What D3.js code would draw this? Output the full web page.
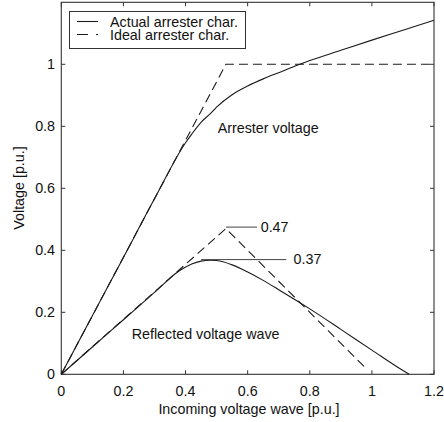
<!DOCTYPE html>
<html>
<head>
<meta charset="utf-8">
<script src="https://cdn.jsdelivr.net/npm/d3@7"></script>
<style>
html,body{margin:0;padding:0;background:#fff;}
svg{display:block;}
text{font-family:"Liberation Sans",Arial,Helvetica,sans-serif;fill:#111;}
</style>
</head>
<body>
<svg id="chart" width="444" height="422"></svg>
<script>
// ---- data ----
const xTicks = [0, 0.2, 0.4, 0.6, 0.8, 1, 1.2];
const yTicks = [0, 0.2, 0.4, 0.6, 0.8, 1];
const xTickLabels = ["0", "0.2", "0.4", "0.6", "0.8", "1", "1.2"];
const yTickLabels = ["0", "0.2", "0.4", "0.6", "0.8", "1"];

// Actual arrester characteristic (solid)
const actualX = [0, 0.1, 0.2, 0.3, 0.4, 0.42, 0.45, 0.48, 0.5, 0.55, 0.6, 0.65, 0.7, 0.768, 0.8, 0.9, 1.0, 1.1, 1.2];
const actualV = [0, 0.189, 0.377, 0.566, 0.747, 0.775, 0.813, 0.841, 0.862, 0.902, 0.930, 0.953, 0.973, 1.000, 1.012, 1.045, 1.078, 1.110, 1.142];

// Reflected wave for actual arrester (solid)
const reflActualX = [0, 0.1, 0.2, 0.3, 0.38, 0.42, 0.45, 0.48, 0.5, 0.55, 0.6, 0.65, 0.7, 0.768, 0.8, 0.9, 1.0, 1.1, 1.12];
const reflActualV = [0, 0.088, 0.176, 0.264, 0.334, 0.356, 0.365, 0.368, 0.367, 0.353, 0.330, 0.303, 0.273, 0.231, 0.211, 0.145, 0.078, 0.012, 0];

// Ideal arrester characteristic (dashed)
const idealX = [0, 0.53, 1.2];
const idealV = [0, 1, 1];

// Reflected wave for ideal arrester (dashed)
const reflIdealX = [0, 0.53, 0.98];
const reflIdealV = [0, 0.47, 0.02];

const legendLabels = ["Actual arrester char.", "Ideal arrester char."];
const peakLabels = ["0.47", "0.37"];
const peakValues = [0.47, 0.37];

// ---- layout ----
const svg = d3.select("#chart");
const L = 61.3, R = 434, T = 2.3, B = 374.3;
const x = d3.scaleLinear().domain([0, 1.2]).range([L, R]);
const y = d3.scaleLinear().domain([0, 1.2]).range([B, T]);
const FS = "14.3px";
const axisColor = "#333";
const lineColor = "#1a1a1a";

// frame
svg.append("rect").attr("x", L).attr("y", T).attr("width", R - L).attr("height", B - T)
  .attr("fill", "none").attr("stroke", axisColor).attr("stroke-width", 1.1);

// ticks (inward on all four sides)
const tk = 4;
const g = svg.append("g").attr("stroke", axisColor).attr("stroke-width", 1);
xTicks.forEach(v => {
  g.append("line").attr("x1", x(v)).attr("x2", x(v)).attr("y1", B).attr("y2", B - tk);
  g.append("line").attr("x1", x(v)).attr("x2", x(v)).attr("y1", T).attr("y2", T + tk);
});
yTicks.forEach(v => {
  g.append("line").attr("x1", L).attr("x2", L + tk).attr("y1", y(v)).attr("y2", y(v));
  g.append("line").attr("x1", R).attr("x2", R - tk).attr("y1", y(v)).attr("y2", y(v));
});

// tick labels
xTicks.forEach((v, i) => {
  svg.append("text").attr("x", x(v)).attr("y", 396).attr("text-anchor", "middle")
    .style("font-size", FS).text(xTickLabels[i]);
});
yTicks.forEach((v, i) => {
  svg.append("text").attr("x", 55).attr("y", y(v) + 5).attr("text-anchor", "end")
    .style("font-size", FS).text(yTickLabels[i]);
});

// axis titles
svg.append("text").attr("x", 249).attr("y", 414).attr("text-anchor", "middle")
  .style("font-size", FS).text("Incoming voltage wave [p.u.]");
svg.append("text").attr("transform", "translate(24," + 188 + ") rotate(-90)")
  .attr("text-anchor", "middle").style("font-size", FS).text("Voltage [p.u.]");

// curves
const mk = (xs, vs) => xs.map((d, i) => [d, vs[i]]);
const smooth = d3.line().x(d => x(d[0])).y(d => y(d[1])).curve(d3.curveMonotoneX);
const straight = d3.line().x(d => x(d[0])).y(d => y(d[1]));

const plot = svg.append("g");
plot.append("path").attr("d", straight(mk(idealX, idealV))).attr("fill", "none")
  .attr("stroke", lineColor).attr("stroke-width", 1.1).attr("stroke-dasharray", "9,5");
plot.append("path").attr("d", straight(mk(reflIdealX, reflIdealV))).attr("fill", "none")
  .attr("stroke", lineColor).attr("stroke-width", 1.1).attr("stroke-dasharray", "9,5");
plot.append("path").attr("d", smooth(mk(actualX, actualV))).attr("fill", "none")
  .attr("stroke", lineColor).attr("stroke-width", 1.1);
plot.append("path").attr("d", smooth(mk(reflActualX, reflActualV))).attr("fill", "none")
  .attr("stroke", lineColor).attr("stroke-width", 1.1);

// peak annotations
const ann = [
  {x0: 0.53, x1: 0.63, tx: 0.642, dy: -1.5},
  {x0: 0.45, x1: 0.724, tx: 0.748, dy: 0}
];
ann.forEach((a, i) => {
  const yy = y(peakValues[i]) + a.dy;
  svg.append("line").attr("x1", x(a.x0)).attr("x2", x(a.x1)).attr("y1", yy).attr("y2", yy)
    .attr("stroke", "#444").attr("stroke-width", 1);
  svg.append("text").attr("x", x(a.tx)).attr("y", yy + 4.5).style("font-size", FS).text(peakLabels[i]);
});

// text labels
svg.append("text").attr("x", 217.7).attr("y", 133).style("font-size", FS).text("Arrester voltage");
svg.append("text").attr("x", 131.7).attr("y", 339).style("font-size", FS).text("Reflected voltage wave");

// legend
svg.append("rect").attr("x", 69.5).attr("y", 11.5).attr("width", 176).attr("height", 37)
  .attr("fill", "#fff").attr("stroke", axisColor).attr("stroke-width", 1);
svg.append("line").attr("x1", 77).attr("x2", 98).attr("y1", 21.5).attr("y2", 21.5)
  .attr("stroke", lineColor).attr("stroke-width", 1.1);
svg.append("line").attr("x1", 77).attr("x2", 98).attr("y1", 34.5).attr("y2", 34.5)
  .attr("stroke", lineColor).attr("stroke-width", 1.1).attr("stroke-dasharray", "11,8");
legendLabels.forEach((t, i) => {
  svg.append("text").attr("x", 110).attr("y", 27 + i * 12.7).style("font-size", FS).text(t);
});
</script>
</body>
</html>
